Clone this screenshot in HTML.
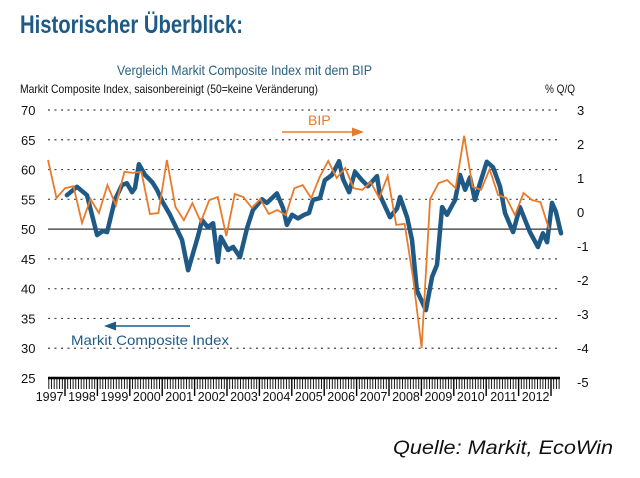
<!DOCTYPE html>
<html><head><meta charset="utf-8"><style>
body{margin:0;background:#fff;width:640px;height:473px;overflow:hidden;font-family:"Liberation Sans",sans-serif}
</style></head><body>
<svg width="640" height="473" viewBox="0 0 640 473" xmlns="http://www.w3.org/2000/svg" font-family="Liberation Sans, sans-serif">
<text x="20" y="33" font-size="25" font-weight="bold" fill="#1d5a86" textLength="223" lengthAdjust="spacingAndGlyphs">Historischer Überblick:</text>
<text x="117" y="75" font-size="14" fill="#2a6283" textLength="255" lengthAdjust="spacingAndGlyphs">Vergleich Markit Composite Index mit dem BIP</text>
<text x="20" y="93" font-size="12" fill="#111" textLength="298" lengthAdjust="spacingAndGlyphs">Markit Composite Index, saisonbereinigt (50=keine Veränderung)</text>
<text x="545" y="93" font-size="12" fill="#111" textLength="30" lengthAdjust="spacingAndGlyphs">% Q/Q</text>
<g id="grid"></g><g id="axes"></g><g id="series"></g>
<line x1="282" y1="132" x2="352" y2="132" stroke="#e87b2b" stroke-width="1.5"/>
<polygon points="364,132 352,127.5 352,136.5" fill="#e87b2b"/>
<text x="308" y="125" font-size="14" fill="#e87b2b">BIP</text>
<line x1="115" y1="326" x2="190" y2="326" stroke="#1f5a86" stroke-width="1.5"/>
<polygon points="104,326 116,321.5 116,330.5" fill="#1f5a86"/>
<text x="71" y="345" font-size="14" fill="#1f5a86" textLength="158" lengthAdjust="spacingAndGlyphs">Markit Composite Index</text>
<text x="393" y="454" font-size="19.5" font-style="italic" fill="#111" textLength="220" lengthAdjust="spacingAndGlyphs">Quelle: Markit, EcoWin</text>
</svg>
<script>
const leftTicks=[70,65,60,55,50,45,40,35,30,25];
const rightTicks=[3,2,1,0,-1,-2,-3,-4,-5];
const years=[1997,1998,1999,2000,2001,2002,2003,2004,2005,2006,2007,2008,2009,2010,2011,2012];
const bipQuarters=[];for(let i=0;i<60;i++){bipQuarters.push((1997+Math.floor((i+2)/4))+"Q"+((i+2)%4+1));}
const bipValues=[1.53,0.41,0.7,0.76,-0.32,0.38,-0.03,0.79,0.2,1.18,1.15,1.18,-0.06,-0.03,1.53,0.15,-0.24,0.26,-0.29,0.35,0.44,-0.71,0.53,0.44,0.12,0.38,-0.06,0.06,-0.09,0.7,0.79,0.41,1.03,1.5,1.0,1.29,0.7,0.65,0.88,0.41,1.06,-0.38,-0.35,-1.94,-4.0,0.38,0.85,0.94,0.7,2.24,0.74,0.65,1.26,0.5,0.41,-0.09,0.56,0.35,0.29,-0.5];
const pmiDates=[1998.06,1998.37,1998.68,1998.99,1999.17,1999.30,1999.54,1999.76,1999.91,2000.07,2000.16,2000.28,2000.47,2000.69,2000.84,2001.02,2001.24,2001.61,2001.80,2002.10,2002.23,2002.41,2002.57,2002.72,2002.81,2003.03,2003.19,2003.40,2003.62,2003.80,2004.08,2004.23,2004.39,2004.54,2004.73,2004.85,2005.01,2005.19,2005.38,2005.53,2005.65,2005.87,2006.02,2006.24,2006.46,2006.58,2006.77,2006.95,2007.17,2007.35,2007.63,2007.72,2008.03,2008.25,2008.34,2008.56,2008.71,2008.86,2009.14,2009.33,2009.48,2009.64,2009.79,2010.04,2010.19,2010.35,2010.50,2010.65,2010.81,2011.02,2011.21,2011.43,2011.58,2011.83,2012.04,2012.35,2012.60,2012.75,2012.88,2013.03,2013.15,2013.31];
const pmiValues=[55.7,57.1,55.7,49.0,49.7,49.5,54.9,57.4,57.7,56.2,56.9,60.9,59.1,57.9,56.6,54.5,52.4,48.2,43.1,48.7,51.5,50.3,51.0,44.5,48.7,46.5,47.0,45.3,50.2,53.2,55.0,54.4,55.2,56.0,53.5,50.7,52.4,51.8,52.4,52.7,54.9,55.2,58.2,59.1,61.4,58.4,56.2,59.6,58.2,57.2,58.9,55.7,52.0,53.5,55.4,52.0,48.2,39.7,36.4,42.0,44.0,53.7,52.4,54.9,59.1,56.6,58.7,54.9,57.7,61.3,60.4,57.1,52.7,49.5,53.7,49.5,47.0,49.3,47.8,54.4,52.9,49.3];
const NS="http://www.w3.org/2000/svg";
const X0=48,X1=560;
const yL=v=>110+(70-v)*(268/45);
const yR=v=>110+(3-v)*34;
const xT=t=>65+(t-1998)*32.4;
const xQ=i=>48+i*(549-48)/(bipValues.length-1);
function mk(tag,attrs,parent){const e=document.createElementNS(NS,tag);for(const k in attrs)e.setAttribute(k,attrs[k]);parent.appendChild(e);return e;}
const grid=document.getElementById('grid'),axes=document.getElementById('axes'),ser=document.getElementById('series');
leftTicks.forEach(v=>{
  const y=yL(v);
  if(v>25){const l=mk('line',{x1:X0,x2:X1,y1:y,y2:y,stroke:v===50?'#333':'#444','stroke-width':1.2,'stroke-dasharray':v===50?'':'2,4.5'},grid);
  
  }
  const t=mk('text',{x:21,y:y+5,'font-size':13,fill:'#111'},axes);t.textContent=v;
  
  
});
rightTicks.forEach(v=>{
  const t=mk('text',{x:577,y:yR(v)+5,'font-size':13,fill:'#111'},axes);t.textContent=v;
  
  
});
const base=mk('line',{x1:X0,x2:X1,y1:378,y2:378,stroke:'#000','stroke-width':2.5},axes);


for(let m=0;;m++){const t=1997.5+m/12;const x=xT(t);if(x>X1)break;
  const major=Math.abs(t-Math.round(t))<0.01;
  const l=mk('line',{x1:x,x2:x,y1:378,y2:major?396:389,stroke:'#000','stroke-width':major?1.4:0.9},axes);
  
  }
years.forEach(yr=>{const t=mk('text',{x:xT(yr+1)-1.5,y:401,'font-size':12.5,'text-anchor':'end',fill:'#111'},axes);t.textContent=yr;
  
  });
const pP=pmiDates.map((d,i)=>xT(d).toFixed(1)+','+yL(pmiValues[i]).toFixed(1)).join(' ');
const bl=mk('polyline',{points:pP,fill:'none',stroke:'#1f5a86','stroke-width':4.5,'stroke-linejoin':'round','stroke-linecap':'round'},ser);


const bP=bipValues.map((v,i)=>xQ(i).toFixed(1)+','+yR(v).toFixed(1)).join(' ');
const ol=mk('polyline',{points:bP,fill:'none',stroke:'#e87b2b','stroke-width':1.8,'stroke-linejoin':'miter'},ser);


</script>
</body></html>
